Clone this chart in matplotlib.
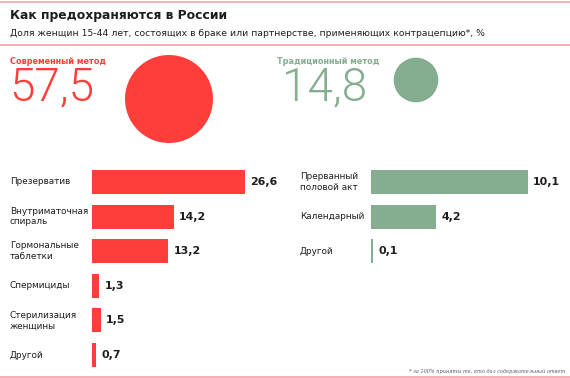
import matplotlib
matplotlib.use("Agg")
import matplotlib.pyplot as plt
import matplotlib.transforms as mtransforms
from matplotlib.patches import Circle
import numpy as np

# ---- data ----
title = "Как предохраняются в России"
subtitle = "Доля женщин 15-44 лет, состоящих в браке или партнерстве, применяющих контрацепцию*, %"
footnote = "* за 100% приняты те, кто дал содержательный ответ"

modern_label = "Современный метод"
modern_total = 57.5
traditional_label = "Традиционный метод"
traditional_total = 14.8

modern_cats = ["Презерватив", "Внутриматочная\nспираль", "Гормональные\nтаблетки",
               "Спермициды", "Стерилизация\nженщины", "Другой"]
modern_vals = [26.6, 14.2, 13.2, 1.3, 1.5, 0.7]

trad_cats = ["Прерванный\nполовой акт", "Календарный", "Другой"]
trad_vals = [10.1, 4.2, 0.1]

RED = "#FF3D3A"
GREEN = "#84AE8F"
PINK = "#F5A3A3"
DARK = "#1E1E1E"

W, H = 570, 378
fig = plt.figure(figsize=(W / 100, H / 100), dpi=100)
fig.patch.set_facecolor("white")

def fx(px):
    return px / W

def fy(py):
    return 1 - py / H

# overlay axes in pixel coordinates
ov = fig.add_axes([0, 0, 1, 1])
ov.set_xlim(0, W)
ov.set_ylim(H, 0)
ov.axis("off")

# separators
for y in (1.5, 45, 376.5):
    ov.axhline(y, color=PINK, lw=1.2)

ov.text(10, 16, title, fontsize=8.9, fontweight="bold", color=DARK, va="center", ha="left")
ov.text(10, 33, subtitle, fontsize=6.65, color=DARK, va="center", ha="left")

# headline numbers
BIG = ["Roboto", "DejaVu Sans"]
ov.text(10, 62, modern_label, fontsize=5.9, fontweight="bold", color=RED, va="center")
ov.text(9, 88, f"{modern_total:.1f}".replace(".", ","), fontsize=33, fontweight=300,
        family=BIG, color=RED, va="center")
ov.text(277, 62, traditional_label, fontsize=5.9, fontweight="bold", color=GREEN, va="center")
ov.text(282, 88, f"{traditional_total:.1f}".replace(".", ","), fontsize=33, fontweight=300,
        family=BIG, color=GREEN, va="center")

k = 44 / np.sqrt(57.5)
ov.add_patch(Circle((169, 99), k * np.sqrt(modern_total), color=RED, lw=0))
ov.add_patch(Circle((416, 80), k * np.sqrt(traditional_total), color=GREEN, lw=0))

ov.text(565, 371, footnote, fontsize=3.6, style="italic", family="DejaVu Serif",
        color="#555555", ha="right", va="center")

# bar panels
row = 34.6
top = 182 - row / 2
bottom = top + 6 * row

def panel(x0, x1, xmax, cats, vals, color, label_x):
    ax = fig.add_axes([fx(x0), fy(bottom), fx(x1 - x0), (bottom - top) / H])
    ax.set_xlim(0, xmax)
    ax.set_ylim(5.5, -0.5)
    ax.axis("off")
    y = np.arange(len(cats))
    ax.barh(y, vals, height=24 / row, color=color, lw=0)
    tr = mtransforms.blended_transform_factory(fig.transFigure, ax.transData)
    for yi, c, v in zip(y, cats, vals):
        ax.text(fx(label_x), yi, c, transform=tr, fontsize=6.4, color=DARK,
                va="center", ha="left", linespacing=1.25)
        ax.annotate(f"{v:.1f}".replace(".", ","), (v, yi), xytext=(4, 0),
                    textcoords="offset points", fontsize=7.9, fontweight="bold",
                    color=DARK, va="center", ha="left")
    return ax

panel(92, 92 + 30 * 5.75, 30, modern_cats, modern_vals, RED, 10)
panel(371, 371 + 12 * 15.5, 12, trad_cats, trad_vals, GREEN, 300)

fig.savefig("out.png", dpi=100)
